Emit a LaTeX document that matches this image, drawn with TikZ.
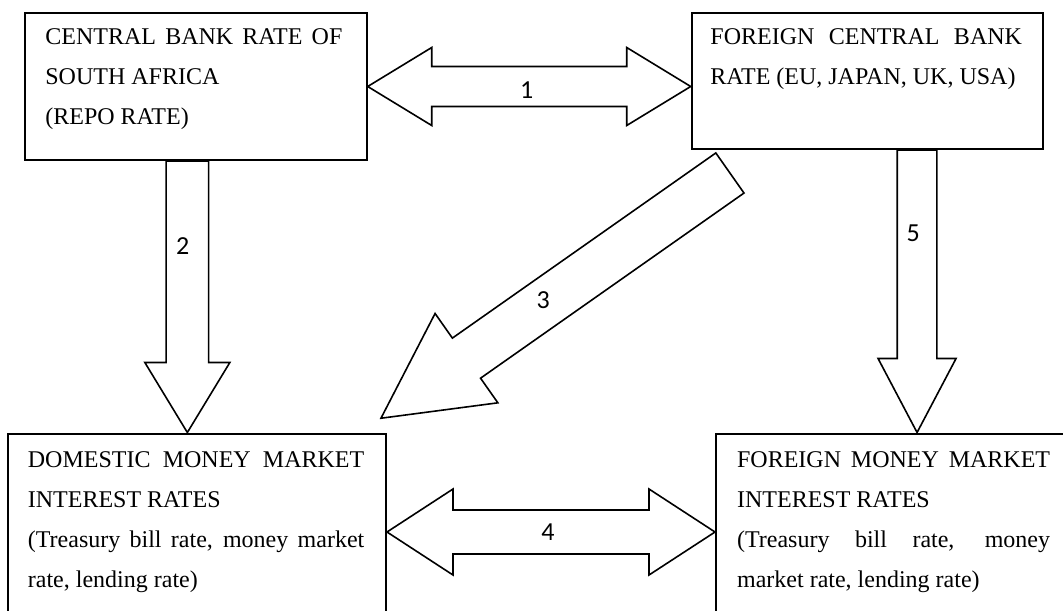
\documentclass[tikz,border=0pt]{standalone}
\usepackage{fontspec}
\setmainfont{Liberation Serif}
\newfontfamily\numfont{Carlito}
\usetikzlibrary{calc}

\begin{document}
\begin{tikzpicture}[x=.5pt,y=-.5pt,
    box/.style={draw,line width=1pt,inner sep=0pt,anchor=north west},
    boxtext/.style={anchor=north west,inner sep=0pt,align=justify,font=\fontsize{12}{20}\selectfont},
    blk/.style={draw,line width=.8pt,line join=miter,fill=white},
    num/.style={inner sep=0pt,font=\numfont\fontsize{13}{13}\selectfont}]

\useasboundingbox (0,0) rectangle (1063,610);
\clip (0,0) rectangle (1063,610);

% the four rates
\node[box,minimum width=170.85pt,minimum height=73.5pt] (repo) at (24,12) {};
\node[box,minimum width=175.65pt,minimum height=68pt] (fcb) at (690.7,12) {};
\node[box,minimum width=189pt,minimum height=98.5pt] (dmm) at (7,432.5) {};
\node[box,minimum width=175pt,minimum height=98.5pt] (fmm) at (715,432.5) {};

\node[boxtext,text width=148.5pt] (repotxt) at (45,28.3)
    {CENTRAL BANK RATE OF\linebreak SOUTH AFRICA\\(REPO RATE)};
\node[boxtext,text width=155.8pt] (fcbtxt) at (710,28.3)
    {FOREIGN CENTRAL BANK\linebreak RATE (EU, JAPAN, UK, USA)};
\node[boxtext,text width=168.2pt] (dmmtxt) at (27.5,451)
    {DOMESTIC MONEY MARKET\linebreak INTEREST RATES\\(Treasury bill rate, money market\linebreak rate, lending rate)};
\node[boxtext,text width=156.5pt] (fmmtxt) at (736.7,451)
    {FOREIGN MONEY MARKET\linebreak INTEREST RATES\\(Treasury bill rate, money\linebreak market rate, lending rate)};

% 1 and 4: both ways
\draw[blk] (repo.east) -- ++(64,-39) -- ++(0,19) -- ($(repo.east -| fcb.west)+(-64,-20)$) -- ++(0,-19)
    -- (repo.east -| fcb.west) -- ++(-64,39) -- ++(0,-19) -- ($(repo.east)+(64,20)$) -- ++(0,19) -- cycle;
\draw[blk] (dmm.east) -- ++(66,-43) -- ++(0,21) -- ($(fmm.west)+(-66,-22)$) -- ++(0,-21)
    -- (fmm.west) -- ++(-66,43) -- ++(0,-21) -- ($(dmm.east)+(66,22)$) -- ++(0,21) -- cycle;

% 2 and 5: downwards
\coordinate (s2) at ($(repo.south)+(-8.5,0)$);
\draw[blk] ($(s2)+(-21.3,0)$) -- ($(s2 |- dmm.north)+(-21.3,-70)$) -- ++(-21.2,0) -- (s2 |- dmm.north)
    -- ++(42.5,-70) -- ++(-21.2,0) -- ($(s2)+(21.3,0)$) -- cycle;
\coordinate (s5) at ($(fcb.south)+(49.7,0)$);
\draw[blk] ($(s5)+(-19.8,0)$) -- ($(s5 |- fmm.north)+(-19.8,-74)$) -- ++(-19.2,0) -- (s5 |- fmm.north)
    -- ++(39,-74) -- ++(-19.2,0) -- ($(s5)+(19.8,0)$) -- cycle;

% 3: across
\coordinate (t3) at (729.9,173);
\draw[blk,shift={(t3)},rotate=215.1] (0,-24.5) -- (322,-24.5) -- (322,-54.6) -- (426.5,0)
    -- (322,54.6) -- (322,24.5) -- (0,24.5) -- cycle;

\node[num] (l1) at (526.7,90.5) {1};
\node[num] (l2) at (182.7,246) {2};
\node[num] (l3) at (543.3,300) {3};
\node[num] (l4) at (548,532.5) {4};
\node[num] (l5) at (913.3,233.3) {5};
\end{tikzpicture}
\end{document}
